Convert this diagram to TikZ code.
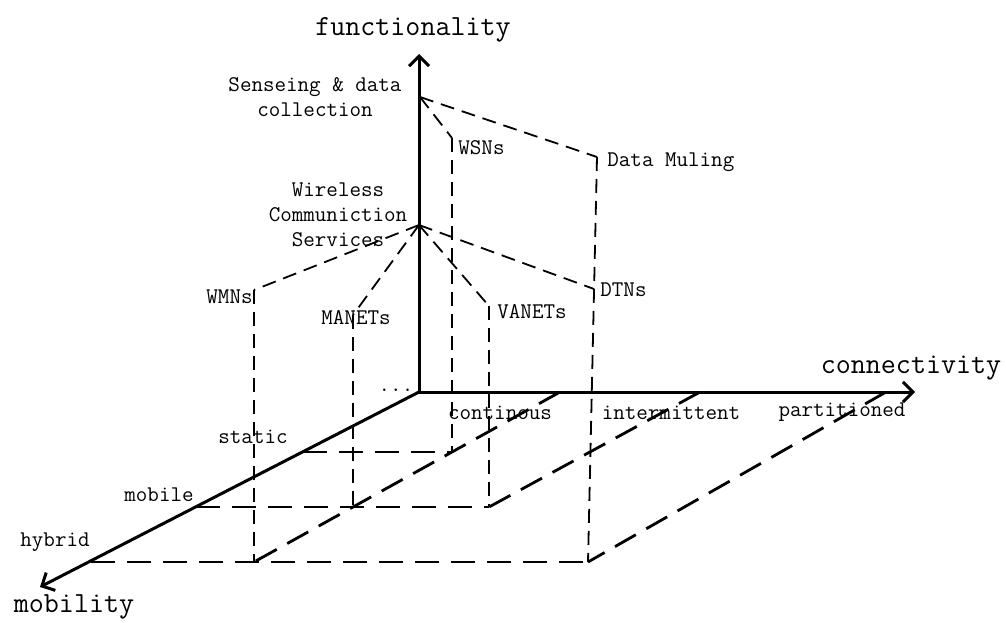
\documentclass[tikz,border=0pt]{standalone}
\usetikzlibrary{arrows.meta}
\begin{document}
\begin{tikzpicture}[x=0.5pt,y=-0.5pt,inner sep=0pt,line join=round,
	font=\ttfamily\fontsize{11.2}{12.5}\selectfont,
	>={Straight Barb[length=5pt,width=10pt]},
	axis/.style={line width=1.5pt,->},
	guide/.style={line width=0.9pt,dash pattern=on 7pt off 4pt},
	floor/.style={line width=1.4pt,dash pattern=on 12pt off 6pt},
	big/.style={font=\ttfamily\fontsize{14.6}{16}\selectfont}]
	\useasboundingbox (0,0) rectangle (1006,622);
	% axes
	\coordinate (O) at (419,392);
	\coordinate (ftip) at (419,54);
	\coordinate (ctip) at (915,392);
	\coordinate (mtip) at (40,587);
	\draw[axis] (O) -- (ftip);
	\draw[axis] (O) -- (ctip);
	\draw[axis] (O) -- (mtip);
	\node[big,anchor=base] (flab) at (413,35) {functionality};
	\node[big,anchor=base] (clab) at (911,373) {connectivity};
	\node[big,anchor=base] (mlab) at (74,612) {mobility};
	\node[anchor=base] (dots) at (396,391) {...};
	% functions
	\coordinate (sens) at (420,97);
	\coordinate (wcs) at (419,225);
	\node[align=center] (senslab) at (315,97) {Senseing \& data\\collection};
	\node[align=center] (wcslab) at (338,215) {Wireless\\Communiction\\Services};
	% networks
	\coordinate (wsn) at (452,138);
	\coordinate (dm) at (597,157);
	\coordinate (wmn) at (254,290);
	\coordinate (manet) at (353,315);
	\coordinate (vanet) at (489,306);
	\coordinate (dtn) at (594,289);
	\node[anchor=west] (wsnlab) at (458,148) {WSNs};
	\node[anchor=west] (dmlab) at (607,162) {Data Muling};
	\node[anchor=east] (wmnlab) at (253,297) {WMNs};
	\node (manetlab) at (356,318) {MANETs};
	\node[anchor=west] (vanetlab) at (497,312) {VANETs};
	\node[anchor=west] (dtnlab) at (600,290) {DTNs};
	\draw[guide] (sens) -- (wsn);
	\draw[guide] (sens) -- (dm);
	\draw[guide] (wcs) -- (wmn);
	\draw[guide] (wcs) -- (manet);
	\draw[guide] (wcs) -- (vanet);
	\draw[guide] (wcs) -- (dtn);
	% floor points
	\coordinate (st) at (303,452);
	\coordinate (mo) at (196,507);
	\coordinate (hy) at (91,562);
	\coordinate (cont) at (560,392);
	\coordinate (inter) at (700,392);
	\coordinate (part) at (886,392);
	\coordinate (wsnF) at (452,452);
	\coordinate (manetF) at (353,507);
	\coordinate (wmnF) at (254,562);
	\coordinate (vanetF) at (489,507);
	\coordinate (dmF) at (588,562);
	\draw[guide] (wsn) -- (wsnF);
	\draw[guide] (dm) -- (dmF);
	\draw[guide] (wmn) -- (wmnF);
	\draw[guide] (manet) -- (manetF);
	\draw[guide] (vanet) -- (vanetF);
	\draw[floor] (st) -- (wsnF);
	\draw[floor] (mo) -- (vanetF);
	\draw[floor] (hy) -- (dmF);
	\draw[floor] (cont) -- (wmnF);
	\draw[floor] (inter) -- (vanetF);
	\draw[floor] (part) -- (dmF);
	\node (stlab) at (253,437) {static};
	\node (molab) at (159,495) {mobile};
	\node (hylab) at (55,542) {hybrid};
	\node (contlab) at (500,413) {continous};
	\node (interlab) at (671,413) {intermittent};
	\node (partlab) at (842,412) {partitioned};
\end{tikzpicture}
\end{document}
